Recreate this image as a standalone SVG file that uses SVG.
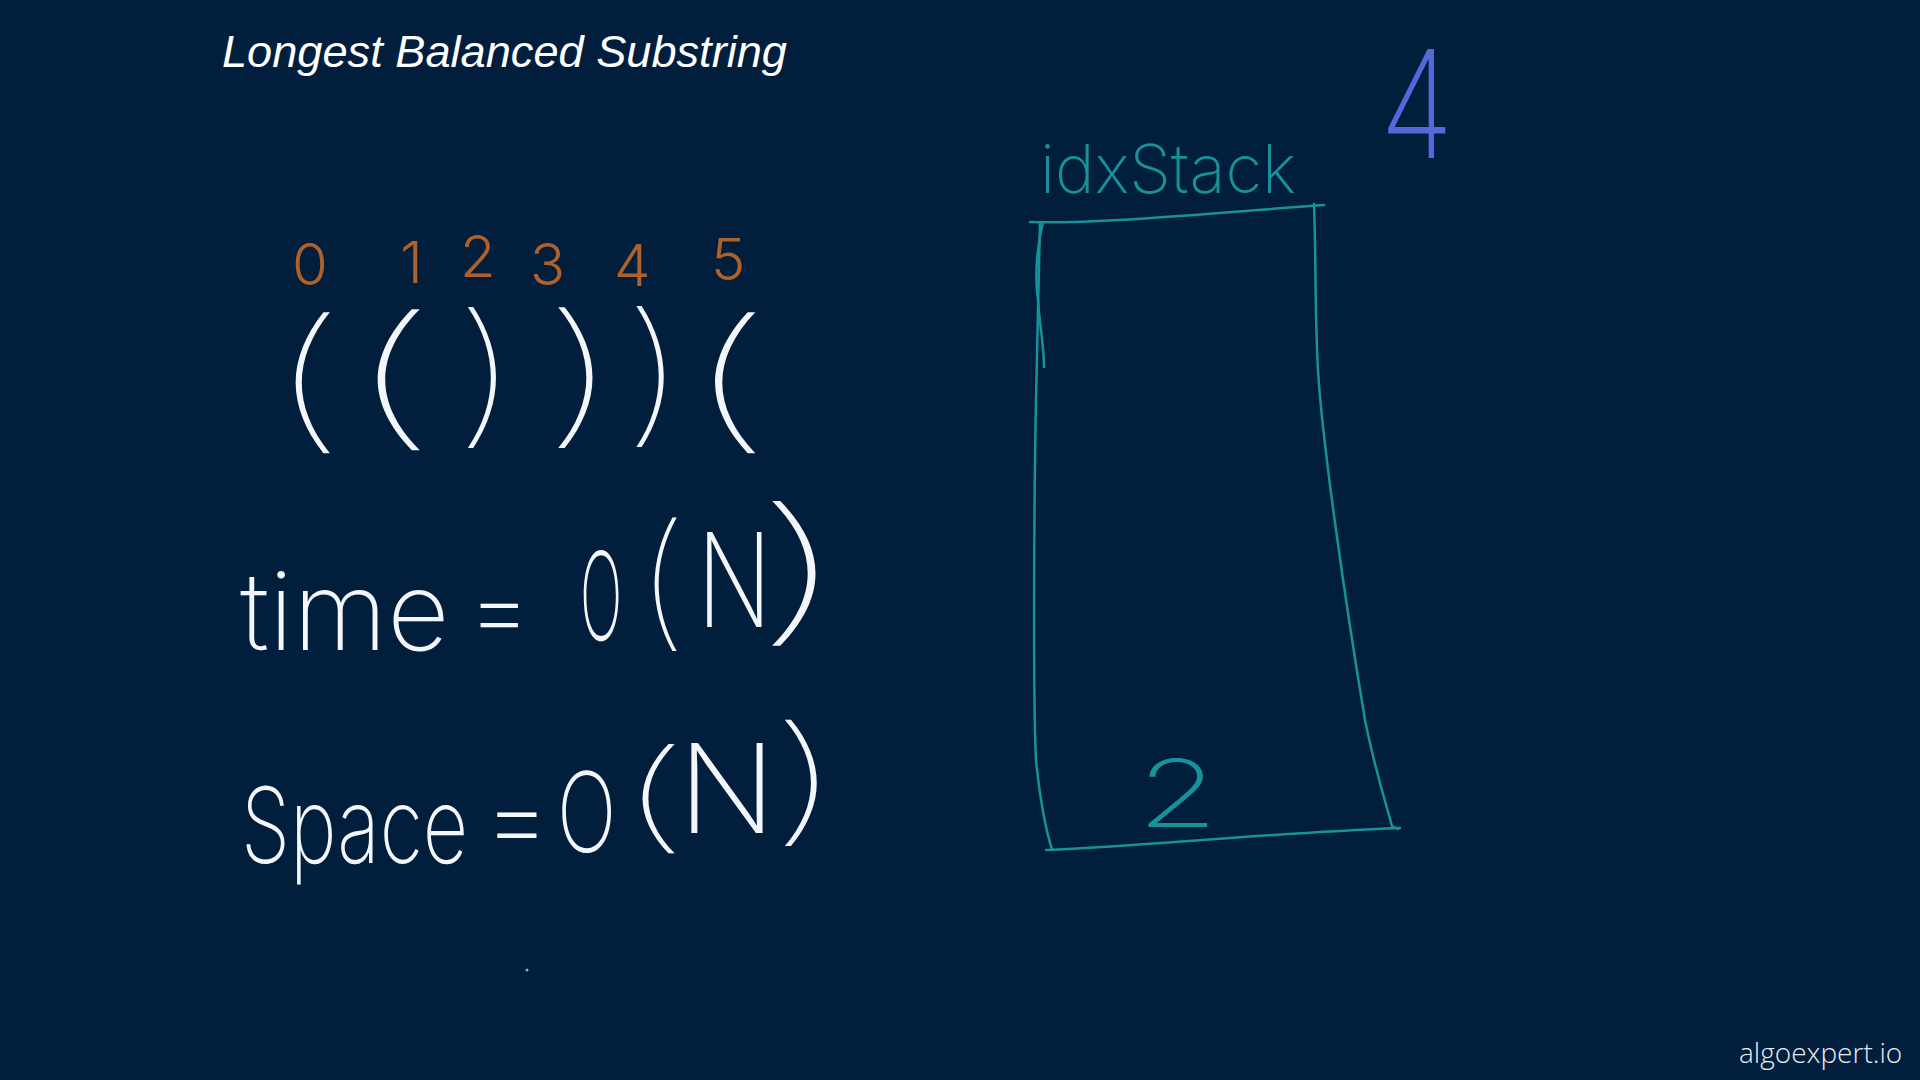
<svg xmlns="http://www.w3.org/2000/svg" width="1920" height="1080" viewBox="0 0 1920 1080">
<style>
.hand{font-family:Inter,"DejaVu Sans",sans-serif;font-weight:200}
.w{fill:#f3f6fa}
.p{font-weight:100}
.or{fill:#b0612a;font-weight:300}
.tl{fill:#17929b}
.bl{fill:#5468d8}
.box{fill:none;stroke:#17929b;stroke-width:2.5;stroke-linecap:round;stroke-linejoin:round}
</style>
<rect width="1920" height="1080" fill="#011e3c"/>
<text id="title" x="222" y="67" font-family="'Liberation Sans',Arial,sans-serif" font-style="italic" font-size="45" textLength="565" lengthAdjust="spacingAndGlyphs" fill="#ffffff">Longest Balanced Substring</text>
<g id="indices" class="hand or" font-size="58">
<text x="292" y="285">0</text>
<text x="400" y="283">1</text>
<text x="460" y="277">2</text>
<text x="530" y="285">3</text>
<text x="614" y="286">4</text>
<text x="711" y="280">5</text>
</g>
<g id="parens" class="hand w p" font-size="155">
<text transform="translate(265,432) scale(1.7,1)">(</text>
<text transform="translate(340,429) scale(2.09,1)">(</text>
<text transform="translate(453,427) scale(1.39,1)">)</text>
<text transform="translate(540,427) scale(1.7,1)">)</text>
<text transform="translate(622,426) scale(1.35,1)">)</text>
<text transform="translate(679,432) scale(2,1)">(</text>
</g>
<g id="time" class="hand w">
<text x="240" y="650" font-size="108">time</text>
<text x="467" y="644" font-size="100">=</text>
<text transform="translate(580,640) scale(0.46,1)" font-size="122">O</text>
<text class="p" transform="translate(635,631) scale(1.15,1)" font-size="147">(</text>
<text transform="translate(697,627) scale(0.75,1)" font-size="130">N</text>
<text class="p" transform="translate(749,624) scale(2.1,1)" font-size="159">)</text>
</g>
<g id="space" class="hand w">
<text transform="translate(241,863) scale(0.75,1)" font-size="105">Space</text>
<text x="483" y="855" font-size="105">=</text>
<text transform="translate(557,852) scale(0.71,1)" font-size="111">O</text>
<text class="p" transform="translate(614,837) scale(2.05,1)" font-size="120">(</text>
<text transform="translate(678,833) scale(1.04,1)" font-size="123">N</text>
<text class="p" transform="translate(768,827) scale(1.76,1)" font-size="139">)</text>
</g>
<g id="idxStack">
<text class="hand tl" x="1040" y="193" font-size="67">idxStack</text>
<path class="box" d="M1030,222 C1100,224 1200,214 1324,205"/>
<path class="box" d="M1314,204 C1316,260 1315,320 1318,370 C1322,440 1345,600 1365,720 C1375,770 1385,800 1392,826 L1398,829"/>
<path class="box" d="M1046,850 C1150,846 1250,834 1400,828"/>
<path class="box" d="M1043,222 C1036,250 1035,280 1038,300 C1040,330 1044,345 1044,367"/>
<path class="box" d="M1040,222 L1036,400 C1034,500 1033,700 1036,760 C1040,800 1046,830 1052,850"/>
<text class="hand tl" transform="translate(1137,827) scale(1.4,1)" font-size="94">2</text>
</g>
<text id="counter" class="hand bl" transform="translate(1380,158) scale(0.8,1)" font-size="150">4</text>
<circle cx="527" cy="970" r="1.5" fill="#8fb0c8"/>
<text id="brand" x="1739" y="1063" font-family="'Open Sans',sans-serif" font-weight="300" font-size="28" fill="#e6ecf2">algoexpert.io</text>
</svg>
